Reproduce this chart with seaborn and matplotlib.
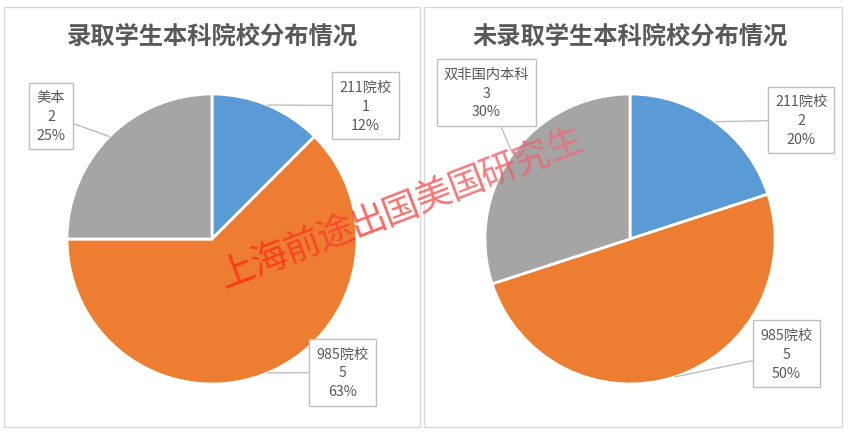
import numpy as np
import seaborn as sns
import matplotlib.pyplot as plt
from matplotlib.patches import Rectangle
from matplotlib.colors import to_rgb

sns.set_theme(style="white")
plt.rcParams['font.family'] = ['Noto Sans CJK SC', 'DejaVu Sans']

# data
left_title = "录取学生本科院校分布情况"
left_labels = ["211院校", "985院校", "美本"]
left_values = [1, 5, 2]
left_pcts = [12, 63, 25]

right_title = "未录取学生本科院校分布情况"
right_labels = ["211院校", "985院校", "双非国内本科"]
right_values = [2, 5, 3]
right_pcts = [20, 50, 30]

watermark = "上海前途出国美国研究生"

colors = ["#5B9BD5", "#ED7D31", "#A5A5A5"]
text_gray = "#595959"

W, H = 848, 435
fig = plt.figure(figsize=(W / 100, H / 100), dpi=100)


def px_box(x0, y0, x1, y1):
    # pixel box (top-left origin) -> figure fraction rect
    return [x0 / W, 1 - y1 / H, (x1 - x0) / W, (y1 - y0) / H]


# panel borders
for x0, x1 in [(4, 420), (424, 842)]:
    r = px_box(x0, 8, x1, 428)
    fig.patches.append(Rectangle((r[0], r[1]), r[2], r[3], transform=fig.transFigure,
                                 fill=False, edgecolor="#d9d9d9", linewidth=1))


def draw_pie(cx, cy, rad, title, labels, values, pcts, box_offsets):
    ax = fig.add_axes(px_box(cx - rad, cy - rad, cx + rad, cy + rad))
    wedges, _ = ax.pie(values, colors=colors, startangle=90, counterclock=False,
                       radius=1, wedgeprops=dict(edgecolor="white", linewidth=2))
    ax.set_xlim(-1, 1)
    ax.set_ylim(-1, 1)
    ax.set_aspect("equal")
    ax.axis("off")
    for w, lab, v, p, off in zip(wedges, labels, values, pcts, box_offsets):
        mid = np.deg2rad((w.theta1 + w.theta2) / 2)
        pt = (np.cos(mid), np.sin(mid))
        ax.annotate(f"{lab}\n{v}\n{p}%", xy=pt, xytext=off,
                    ha="center", va="center", fontsize=10.3, color=text_gray,
                    linespacing=1.45, annotation_clip=False,
                    bbox=dict(boxstyle="square,pad=0.5", fc="white", ec="#bfbfbf", lw=1),
                    arrowprops=dict(arrowstyle="-", color="#bfbfbf", lw=1,
                                    shrinkA=0, shrinkB=0))
    fig.text(cx / W, 1 - 37 / H, title, ha="center", va="center",
             fontsize=17.5, fontweight="bold", color=text_gray)


draw_pie(212, 240, 145, left_title, left_labels, left_values, left_pcts,
         [(1.06, 0.92), (0.90, -0.92), (-1.11, 0.85)])
draw_pie(630, 240, 145, right_title, right_labels, right_values, right_pcts,
         [(1.18, 0.82), (1.08, -0.79), (-0.99, 1.01)])

# watermark, one character at a time with a red -> pink fade
c0, c1 = np.array(to_rgb("#ff2a10")), np.array(to_rgb("#f06a78"))
n = len(watermark)
xs = np.linspace(237, 565, n)
ys = np.linspace(272, 146, n)
for i, ch in enumerate(watermark):
    t = i / (n - 1)
    fig.text(xs[i] / W, 1 - ys[i] / H, ch, ha="center", va="center",
             rotation=21, fontsize=26, color=tuple(c0 * (1 - t) + c1 * t),
             alpha=0.8, rotation_mode="anchor")

fig.savefig("out.png", dpi=100)
